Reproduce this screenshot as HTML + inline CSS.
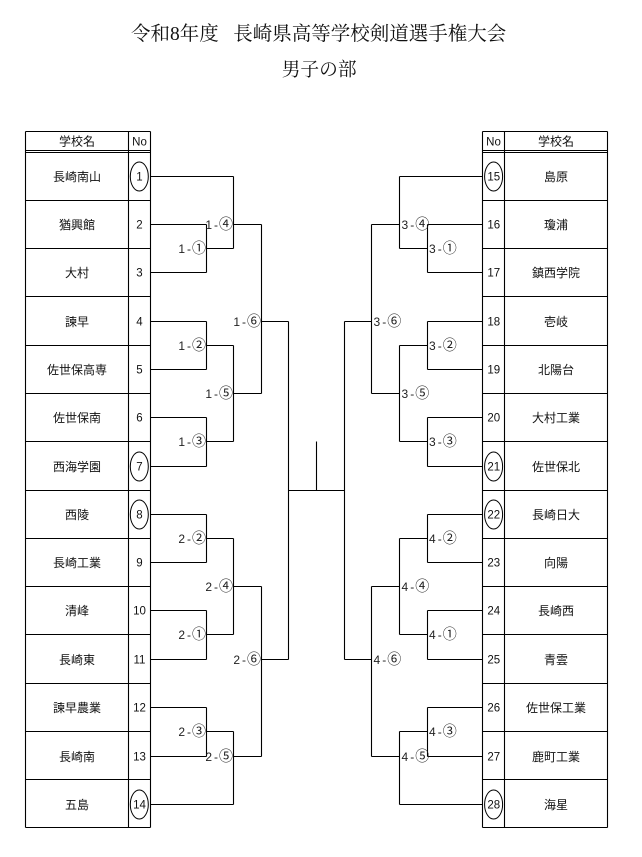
<!DOCTYPE html>
<html><head><meta charset="utf-8"><style>
html,body{margin:0;padding:0;background:#fff;}
svg{display:block;}
.t{font-family:"Liberation Serif","Noto Serif CJK SC",serif;fill:#111;}
.n{font-family:"Liberation Sans","Noto Sans CJK JP",sans-serif;font-size:12px;fill:#111;text-anchor:middle;}
.d{font-family:"Liberation Sans","Noto Sans CJK JP",sans-serif;font-size:11.5px;fill:#111;text-anchor:middle;}
.l{font-family:"Liberation Sans","Noto Sans CJK JP",sans-serif;font-size:12px;fill:#222;}
.c{font-family:"Noto Sans CJK JP",sans-serif;font-size:14px;}
.le{text-anchor:end;}
</style></head><body>
<svg width="642" height="857" viewBox="0 0 642 857" xmlns="http://www.w3.org/2000/svg">
<rect width="642" height="857" fill="#fff"/>
<text class="t" x="131" y="40" font-size="19.5">令和8年度</text>
<text class="t" x="233.3" y="40" font-size="19.5" textLength="273" lengthAdjust="spacingAndGlyphs">長崎県高等学校剣道選手権大会</text>
<text class="t" x="281.7" y="75.5" font-size="19" textLength="75" lengthAdjust="spacingAndGlyphs">男子の部</text>

<g stroke="#000" stroke-width="1.1" fill="none">
<path d="M25.5 131.5H150.5M25.5 150.5H150.5M25.5 152.5H150.5M25.5 131.5V827.5M128.5 131.5V827.5M150.5 131.5V827.5M25.5 827.5H150.5
M25.5 200.5H150.5M25.5 248.5H150.5M25.5 296.5H150.5M25.5 345.5H150.5M25.5 393.5H150.5M25.5 441.5H150.5M25.5 490.5H150.5
M25.5 538.5H150.5M25.5 586.5H150.5M25.5 634.5H150.5M25.5 683.5H150.5M25.5 731.5H150.5M25.5 779.5H150.5"/>
<path d="M482.5 131.5H607.5M482.5 150.5H607.5M482.5 152.5H607.5M482.5 131.5V827.5M504.5 131.5V827.5M607.5 131.5V827.5M482.5 827.5H607.5
M482.5 200.5H607.5M482.5 248.5H607.5M482.5 296.5H607.5M482.5 345.5H607.5M482.5 393.5H607.5M482.5 441.5H607.5M482.5 490.5H607.5
M482.5 538.5H607.5M482.5 586.5H607.5M482.5 634.5H607.5M482.5 683.5H607.5M482.5 731.5H607.5M482.5 779.5H607.5"/>
<path d="M150.5 176.5H233.5
M150.5 224.5H206.5M150.5 272.5H206.5M206.5 224.5V272.5M206.5 248.5H233.5
M233.5 176.5V248.5M233.5 224.5H261.5
M150.5 321.5H206.5M150.5 369.5H206.5M206.5 321.5V369.5M206.5 345.5H233.5
M150.5 417.5H206.5M150.5 466.5H206.5M206.5 417.5V466.5M206.5 441.5H233.5
M233.5 345.5V441.5M233.5 393.5H261.5
M261.5 224.5V393.5M261.5 321.5H288.5
M150.5 514.5H206.5M150.5 562.5H206.5M206.5 514.5V562.5M206.5 538.5H233.5
M150.5 610.5H206.5M150.5 659.5H206.5M206.5 610.5V659.5M206.5 634.5H233.5
M233.5 538.5V634.5M233.5 586.5H261.5
M150.5 707.5H206.5M150.5 756.5H206.5M206.5 707.5V756.5M206.5 731.5H233.5
M150.5 804.5H233.5M233.5 731.5V804.5M233.5 756.5H261.5
M261.5 586.5V756.5M261.5 659.5H288.5
M288.5 321.5V659.5M288.5 490.5H344.5M316.5 441.5V490.5"/>
<path d="M482.5 176.5H399.5
M482.5 224.5H427.5M482.5 272.5H427.5M427.5 224.5V272.5M427.5 248.5H399.5
M399.5 176.5V248.5M399.5 224.5H371.5
M482.5 321.5H427.5M482.5 369.5H427.5M427.5 321.5V369.5M427.5 345.5H399.5
M482.5 417.5H427.5M482.5 466.5H427.5M427.5 417.5V466.5M427.5 441.5H399.5
M399.5 345.5V441.5M399.5 393.5H371.5
M371.5 224.5V393.5M371.5 321.5H344.5
M482.5 514.5H427.5M482.5 562.5H427.5M427.5 514.5V562.5M427.5 538.5H399.5
M482.5 610.5H427.5M482.5 659.5H427.5M427.5 610.5V659.5M427.5 634.5H399.5
M399.5 538.5V634.5M399.5 586.5H371.5
M482.5 707.5H427.5M482.5 756.5H427.5M427.5 707.5V756.5M427.5 731.5H399.5
M482.5 804.5H399.5M399.5 731.5V804.5M399.5 756.5H371.5
M371.5 586.5V756.5M371.5 659.5H344.5
M344.5 321.5V659.5"/>
</g>

<g stroke="#000" stroke-width="1" fill="#fff">
<ellipse cx="139.3" cy="176.5" rx="9" ry="14.5"/>
<ellipse cx="139.3" cy="466.5" rx="9" ry="14.5"/>
<ellipse cx="139.3" cy="514.5" rx="9" ry="14.5"/>
<ellipse cx="139.3" cy="804.5" rx="9" ry="14.5"/>
<ellipse cx="493.6" cy="176.5" rx="9" ry="14.5"/>
<ellipse cx="493.6" cy="466.5" rx="9" ry="14.5"/>
<ellipse cx="493.6" cy="514.5" rx="9" ry="14.5"/>
<ellipse cx="493.6" cy="804.5" rx="9" ry="14.5"/>
</g>

<text class="n" x="77" y="145.5">学校名</text>
<text class="d" x="139.5" y="145.5">No</text>
<text class="d" x="493.5" y="145.5">No</text>
<text class="n" x="556" y="145.5">学校名</text>

<g>
<text class="n" x="77" y="181">長崎南山</text>
<text class="n" x="77" y="229">猶興館</text>
<text class="n" x="77" y="277">大村</text>
<text class="n" x="77" y="326">諫早</text>
<text class="n" x="77" y="374">佐世保高専</text>
<text class="n" x="77" y="422">佐世保南</text>
<text class="n" x="77" y="471">西海学園</text>
<text class="n" x="77" y="519">西陵</text>
<text class="n" x="77" y="567">長崎工業</text>
<text class="n" x="77" y="615">清峰</text>
<text class="n" x="77" y="664">長崎東</text>
<text class="n" x="77" y="712">諫早農業</text>
<text class="n" x="77" y="761">長崎南</text>
<text class="n" x="77" y="809">五島</text>
</g>
<g>
<text class="d" x="139.5" y="180.5">1</text>
<text class="d" x="139.5" y="228.5">2</text>
<text class="d" x="139.5" y="276.5">3</text>
<text class="d" x="139.5" y="325.5">4</text>
<text class="d" x="139.5" y="373.5">5</text>
<text class="d" x="139.5" y="421.5">6</text>
<text class="d" x="139.5" y="470.5">7</text>
<text class="d" x="139.5" y="518.5">8</text>
<text class="d" x="139.5" y="566.5">9</text>
<text class="d" x="139.5" y="614.5">10</text>
<text class="d" x="139.5" y="663.5">11</text>
<text class="d" x="139.5" y="711.5">12</text>
<text class="d" x="139.5" y="760.5">13</text>
<text class="d" x="139.5" y="808.5">14</text>
</g>

<g>
<text class="n" x="556" y="181">島原</text>
<text class="n" x="556" y="229">瓊浦</text>
<text class="n" x="556" y="277">鎮西学院</text>
<text class="n" x="556" y="326">壱岐</text>
<text class="n" x="556" y="374">北陽台</text>
<text class="n" x="556" y="422">大村工業</text>
<text class="n" x="556" y="471">佐世保北</text>
<text class="n" x="556" y="519">長崎日大</text>
<text class="n" x="556" y="567">向陽</text>
<text class="n" x="556" y="615">長崎西</text>
<text class="n" x="556" y="664">青雲</text>
<text class="n" x="556" y="712">佐世保工業</text>
<text class="n" x="556" y="761">鹿町工業</text>
<text class="n" x="556" y="809">海星</text>
</g>
<g>
<text class="d" x="493.8" y="180.5">15</text>
<text class="d" x="493.8" y="228.5">16</text>
<text class="d" x="493.8" y="276.5">17</text>
<text class="d" x="493.8" y="325.5">18</text>
<text class="d" x="493.8" y="373.5">19</text>
<text class="d" x="493.8" y="421.5">20</text>
<text class="d" x="493.8" y="470.5">21</text>
<text class="d" x="493.8" y="518.5">22</text>
<text class="d" x="493.8" y="566.5">23</text>
<text class="d" x="493.8" y="614.5">24</text>
<text class="d" x="493.8" y="663.5">25</text>
<text class="d" x="493.8" y="711.5">26</text>
<text class="d" x="493.8" y="760.5">27</text>
<text class="d" x="493.8" y="808.5">28</text>
</g>

<text class="l le" x="206" y="253">1<tspan dx="2">-</tspan><tspan class="c" dx="1">①</tspan></text>
<text class="l le" x="233" y="229">1<tspan dx="2">-</tspan><tspan class="c" dx="1">④</tspan></text>
<text class="l le" x="206" y="350">1<tspan dx="2">-</tspan><tspan class="c" dx="1">②</tspan></text>
<text class="l le" x="206" y="446">1<tspan dx="2">-</tspan><tspan class="c" dx="1">③</tspan></text>
<text class="l le" x="233" y="398">1<tspan dx="2">-</tspan><tspan class="c" dx="1">⑤</tspan></text>
<text class="l le" x="261" y="326">1<tspan dx="2">-</tspan><tspan class="c" dx="1">⑥</tspan></text>
<text class="l le" x="206" y="543">2<tspan dx="2">-</tspan><tspan class="c" dx="1">②</tspan></text>
<text class="l le" x="206" y="639">2<tspan dx="2">-</tspan><tspan class="c" dx="1">①</tspan></text>
<text class="l le" x="233" y="591">2<tspan dx="2">-</tspan><tspan class="c" dx="1">④</tspan></text>
<text class="l le" x="206" y="736">2<tspan dx="2">-</tspan><tspan class="c" dx="1">③</tspan></text>
<text class="l le" x="233" y="761">2<tspan dx="2">-</tspan><tspan class="c" dx="1">⑤</tspan></text>
<text class="l le" x="261" y="664">2<tspan dx="2">-</tspan><tspan class="c" dx="1">⑥</tspan></text>

<text class="l" x="429" y="253">3<tspan dx="2">-</tspan><tspan class="c" dx="1">①</tspan></text>
<text class="l" x="401.5" y="229">3<tspan dx="2">-</tspan><tspan class="c" dx="1">④</tspan></text>
<text class="l" x="429" y="350">3<tspan dx="2">-</tspan><tspan class="c" dx="1">②</tspan></text>
<text class="l" x="429" y="446">3<tspan dx="2">-</tspan><tspan class="c" dx="1">③</tspan></text>
<text class="l" x="401.5" y="398">3<tspan dx="2">-</tspan><tspan class="c" dx="1">⑤</tspan></text>
<text class="l" x="373.5" y="326">3<tspan dx="2">-</tspan><tspan class="c" dx="1">⑥</tspan></text>
<text class="l" x="429" y="543">4<tspan dx="2">-</tspan><tspan class="c" dx="1">②</tspan></text>
<text class="l" x="429" y="639">4<tspan dx="2">-</tspan><tspan class="c" dx="1">①</tspan></text>
<text class="l" x="401.5" y="591">4<tspan dx="2">-</tspan><tspan class="c" dx="1">④</tspan></text>
<text class="l" x="429" y="736">4<tspan dx="2">-</tspan><tspan class="c" dx="1">③</tspan></text>
<text class="l" x="401.5" y="761">4<tspan dx="2">-</tspan><tspan class="c" dx="1">⑤</tspan></text>
<text class="l" x="373.5" y="664">4<tspan dx="2">-</tspan><tspan class="c" dx="1">⑥</tspan></text>
</svg>
</body></html>
